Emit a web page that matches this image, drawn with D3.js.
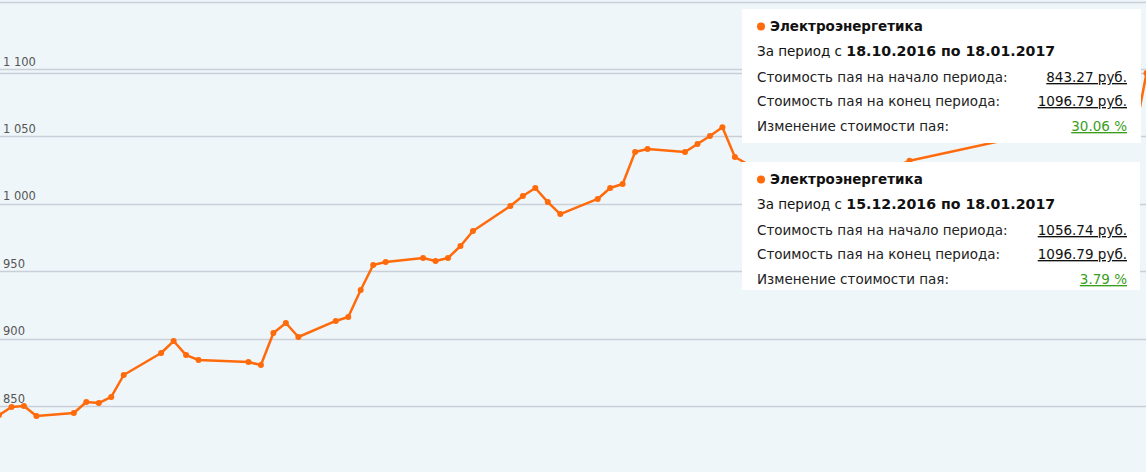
<!DOCTYPE html>
<html>
<head>
<meta charset="utf-8">
<script src="https://cdn.jsdelivr.net/npm/d3@7"></script>
<style>
  html, body { margin: 0; padding: 0; background: #eff6fa; overflow: hidden; }
  svg { display: block; font-family: "DejaVu Sans", Verdana, sans-serif; }
</style>
</head>
<body>
<svg width="1146" height="472"></svg>
<script>
// даты торгов и стоимость пая
const dates = [
  '18.10.2016','19.10.2016','20.10.2016','21.10.2016','24.10.2016','25.10.2016','26.10.2016','27.10.2016','28.10.2016',
  '31.10.2016','01.11.2016','02.11.2016','03.11.2016','07.11.2016','08.11.2016','09.11.2016','10.11.2016','11.11.2016',
  '14.11.2016','15.11.2016','16.11.2016','17.11.2016','18.11.2016','21.11.2016','22.11.2016','23.11.2016','24.11.2016','25.11.2016',
  '28.11.2016','29.11.2016','30.11.2016','01.12.2016','02.12.2016','05.12.2016','06.12.2016','07.12.2016','08.12.2016','09.12.2016',
  '12.12.2016','13.12.2016','14.12.2016','15.12.2016','16.12.2016','19.12.2016','20.12.2016','21.12.2016','22.12.2016','23.12.2016',
  '26.12.2016','27.12.2016','28.12.2016','29.12.2016','30.12.2016','09.01.2017','10.01.2017','11.01.2017','12.01.2017','13.01.2017',
  '16.01.2017','17.01.2017','18.01.2017'
];
const values = [
  843.27, 849.3, 850.0, 842.6, 844.8, 853.0, 852.2, 856.7, 873.0,
  889.3, 898.2, 887.8, 884.1, 882.6, 880.4, 904.2, 911.6, 901.2,
  913.1, 916.0, 936.1, 954.6, 956.8, 959.8, 957.6, 959.8, 968.7, 979.8,
  998.4, 1005.8, 1011.7, 1001.3, 992.4, 1003.6, 1011.7, 1014.7, 1038.4, 1040.7,
  1038.4, 1044.4, 1050.3, 1056.74, 1034.7, 1019.0, 1015.0, 1010.0, 1018.0, 1022.0,
  1025.0, 1027.0, 1024.0, 1028.0, 1032.0, 1052.0, 1056.0, 1058.0, 1055.0, 1057.0,
  1060.0, 1049.0, 1096.79
];
const gridValues = [850, 900, 950, 1000, 1050, 1100, 1150];
const tickLabels = [850, 900, 950, 1000, 1050, 1100];

// подсказки
const fundName = 'Электроэнергетика';
const periodStarts = ['18.10.2016', '15.12.2016'];
const periodEnds = ['18.01.2017', '18.01.2017'];
const startValues = [843.27, 1056.74];
const endValues = [1096.79, 1096.79];

const svg = d3.select('svg');
const width = +svg.attr('width');
const height = +svg.attr('height');

const parse = d3.timeParse('%d.%m.%Y');
const data = dates.map((d, i) => ({date: parse(d), value: values[i]}));

const xscale = d3.scaleTime()
    .domain([parse('18.10.2016'), parse('18.01.2017')])
    .range([-1, 1146.5]);

const yscale = d3.scaleLinear()
    .domain([850, 1150])
    .range([406, 1.6]);

const ru = d3.formatLocale({decimal: ',', thousands: '\u00a0', grouping: [3], currency: ['', ' руб.']});
const fmtTick = ru.format(',d');

// сетка
const grid = svg.append('g');
grid.selectAll('line').data(gridValues).enter()
  .append('line')
    .attr('x1', 0).attr('x2', width)
    .attr('y1', d => Math.round(yscale(d)) + 0.5)
    .attr('y2', d => Math.round(yscale(d)) + 0.5)
    .attr('stroke', '#c9cfd6').attr('stroke-width', 1.3);

// линия текущей стоимости
const last = values[values.length - 1];
svg.append('line')
    .attr('x1', 0).attr('x2', width)
    .attr('y1', Math.round(yscale(last)) + 0.5)
    .attr('y2', Math.round(yscale(last)) + 0.5)
    .attr('stroke', '#c9cfd6').attr('stroke-width', 1.3);

grid.selectAll('text').data(tickLabels).enter()
  .append('text')
    .attr('x', 3)
    .attr('y', d => yscale(d) - 3.5)
    .attr('font-size', 11.5)
    .attr('fill', '#555')
    .text(d => fmtTick(d));

// линия графика
const line = d3.line()
    .x(d => xscale(d.date))
    .y(d => yscale(d.value));

svg.append('path')
    .datum(data)
    .attr('fill', 'none')
    .attr('stroke', '#ff6a0a')
    .attr('stroke-width', 2.5)
    .attr('stroke-linejoin', 'round')
    .attr('d', line);

svg.selectAll('circle.pt').data(data).enter()
  .append('circle')
    .attr('class', 'pt')
    .attr('cx', d => xscale(d.date))
    .attr('cy', d => yscale(d.value))
    .attr('r', 3)
    .attr('fill', '#ff6a0a');

// подсказки
const boxes = [
  {x: 742, y: 9, w: 399, h: 134},
  {x: 742, y: 162, w: 398, h: 128}
];
const rowY = [22, 47, 73, 97, 122];

periodStarts.forEach((ps, i) => {
  const b = boxes[i];
  const g = svg.append('g').attr('transform', `translate(${b.x}, ${b.y})`);
  g.append('rect')
      .attr('width', b.w).attr('height', b.h)
      .attr('fill', '#fff');

  g.append('circle').attr('cx', 19).attr('cy', rowY[0] - 4.5).attr('r', 4).attr('fill', '#ff6a0a');
  g.append('text').attr('x', 28).attr('y', rowY[0])
      .attr('font-size', 13.5).attr('font-weight', 'bold').attr('fill', '#111')
      .text(fundName);

  const p = g.append('text').attr('x', 15).attr('y', rowY[1])
      .attr('font-size', 13.5).attr('fill', '#111');
  p.append('tspan').text('За период с ');
  p.append('tspan').attr('font-weight', 'bold').attr('font-size', 14.2).text(`${ps} по ${periodEnds[i]}`);

  const change = (endValues[i] / startValues[i] - 1) * 100;
  const rows = [
    ['Стоимость пая на начало периода:', startValues[i].toFixed(2) + ' руб.', '#111'],
    ['Стоимость пая на конец периода:', endValues[i].toFixed(2) + ' руб.', '#111'],
    ['Изменение стоимости пая:', change.toFixed(2) + ' %', '#3a9e1e']
  ];
  rows.forEach((r, j) => {
    g.append('text').attr('x', 15).attr('y', rowY[j + 2])
        .attr('font-size', 13.5).attr('fill', '#222')
        .text(r[0]);
    g.append('text').attr('x', 385).attr('y', rowY[j + 2])
        .attr('text-anchor', 'end')
        .attr('font-size', 13.5).attr('fill', r[2])
        .attr('text-decoration', 'underline')
        .text(r[1]);
  });
});
</script>
</body>
</html>
